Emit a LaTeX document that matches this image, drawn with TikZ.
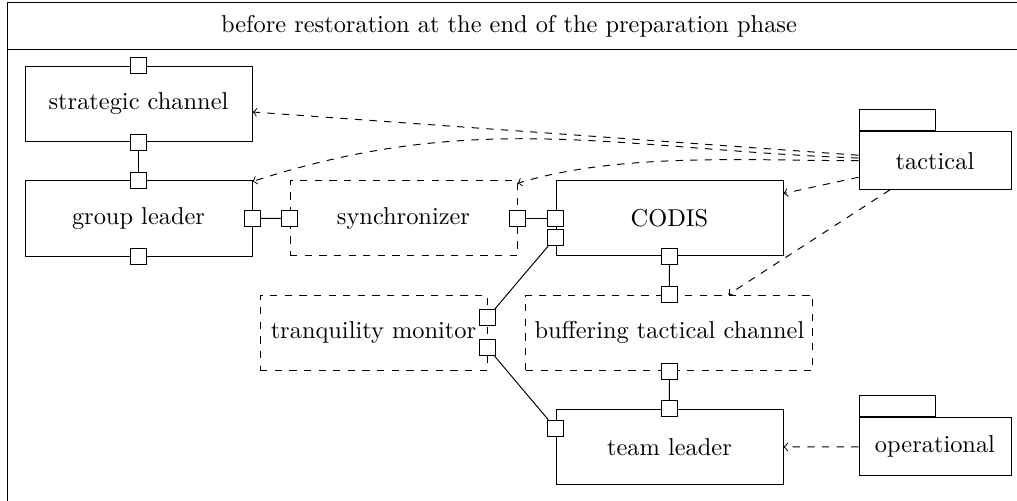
\documentclass[tikz,border=0pt]{standalone}
\usetikzlibrary{calc}

\tikzset{
  box/.style={draw, minimum width=227*0.41pt, minimum height=75.5*0.41pt, inner sep=0pt},
  port/.style={draw, fill=white, minimum size=16*0.41pt, inner sep=0pt},
  pkg/.style={draw, minimum width=152*0.41pt, minimum height=57.5*0.41pt, inner sep=0pt},
  pkgtab/.style={draw, minimum width=76*0.41pt, minimum height=21*0.41pt, inner sep=0pt, anchor=south west},
  dep/.style={dashed, ->},
}

\begin{document}
\begin{tikzpicture}[x=0.41pt, y=0.41pt]
\useasboundingbox (0,0) rectangle (1017,-501);
\clip (0,0) rectangle (1017,-501);

% frame with title compartment
\draw (7,-510) -- (7,-2.5) -- (1030,-2.5);
\draw (7,-49.3) -- (1030,-49.3);
\node (title) at (509,-26) {before restoration at the end of the preparation phase};

% components
\node[box] (strategic) at (138.5,-103.9) {strategic channel};
\node[box] (group) at (138.5,-218.5) {group leader};
\node[box, dashed] (sync) at (403.5,-218.2) {synchronizer};
\node[box] (codis) at (669.5,-218.2) {CODIS};
\node[box, dashed] (tranq) at (373.5,-332.8) {tranquility monitor};
\node[box, dashed, minimum width=287*0.41pt] (buffer) at (669.4,-332.8) {buffering tactical channel};
\node[box] (team) at (669.5,-447.2) {team leader};

% packages
\node[pkg] (tactical) at (935,-160.7) {tactical};
\node[pkgtab] (tacticaltab) at (tactical.north west) {};
\node[pkg] (operational) at (935,-446.7) {operational};
\node[pkgtab] (operationaltab) at (operational.north west) {};

% ports
\node[port] (strategic-n) at (strategic.north) {};
\node[port] (strategic-s) at (strategic.south) {};
\node[port] (group-n) at (group.north) {};
\node[port] (group-e) at (group.east) {};
\node[port] (group-s) at (group.south) {};
\node[port] (sync-w) at (sync.west) {};
\node[port] (sync-e) at (sync.east) {};
\node[port] (codis-w1) at (codis.west) {};
\node[port] (codis-w2) at ($(codis.west)+(0,-19.2)$) {};
\node[port] (codis-s) at (codis.south) {};
\node[port] (buffer-n) at (buffer.north) {};
\node[port] (buffer-s) at (buffer.south) {};
\node[port] (tranq-e1) at ($(tranq.east)+(0,15.1)$) {};
\node[port] (tranq-e2) at ($(tranq.east)+(0,-14.9)$) {};
\node[port] (team-w) at ($(team.west)+(0,18.9)$) {};
\node[port] (team-n) at (team.north) {};

% assembly connectors
\draw (strategic-s) -- (group-n);
\draw (group-e) -- (sync-w);
\draw (sync-e) -- (codis-w1);
\draw (codis-w2) -- (tranq-e1);
\draw (tranq-e2) -- (team-w);
\draw (codis-s) -- (buffer-n);
\draw (buffer-s) -- (team-n);

% dependencies
\draw[dep] (tactical) -- (strategic);
\draw[dep] (tactical) to[out=178, in=18] (group);
\draw[dep] (tactical) to[out=180, in=17, looseness=0.8] (sync);
\draw[dep] (tactical) -- (codis);
\draw[dep] (tactical) -- (buffer);
\draw[dep] (operational) -- (team);
\end{tikzpicture}
\end{document}
